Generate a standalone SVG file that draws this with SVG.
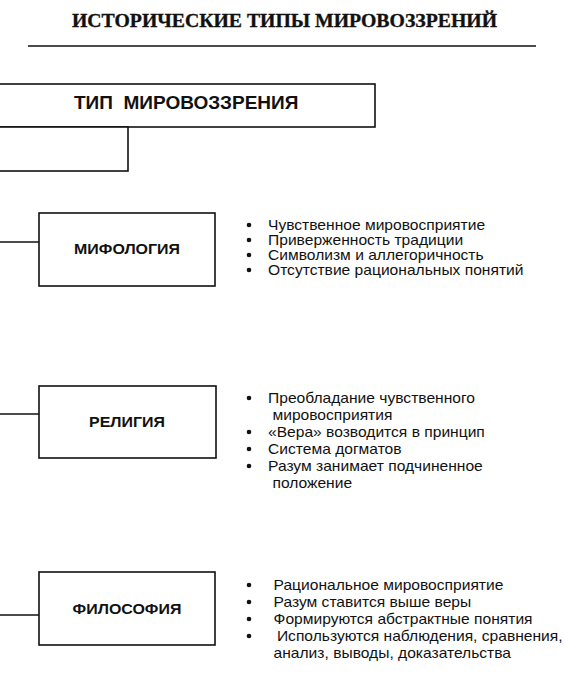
<svg xmlns="http://www.w3.org/2000/svg" width="565" height="682" viewBox="0 0 565 682">
<style>
.box{fill:#fff;stroke:#111;stroke-width:1.6}
.conn{stroke:#111;stroke-width:1.4;fill:none}
.title{font-family:"Liberation Serif","Times New Roman",serif;font-weight:bold;font-size:19px;fill:#111;stroke:#111;stroke-width:0.35}
.head{font-family:"Liberation Sans",Arial,sans-serif;font-weight:bold;font-size:19px;fill:#111}
.lbl{font-family:"Liberation Sans",Arial,sans-serif;font-weight:bold;font-size:14px;fill:#111;text-anchor:middle}
.item{font-family:"Liberation Sans",Arial,sans-serif;font-size:14px;fill:#111}
.dot{fill:#111}
</style>
<rect width="565" height="682" fill="#fff"/>
<text class="title" x="72" y="27" textLength="425" lengthAdjust="spacingAndGlyphs">ИСТОРИЧЕСКИЕ ТИПЫ МИРОВОЗЗРЕНИЙ</text>
<line x1="28" y1="46" x2="536" y2="46" stroke="#111" stroke-width="1.6"/>
<g id="connectors">
<line class="conn" x1="0" y1="242" x2="39" y2="242"/>
<line class="conn" x1="0" y1="414" x2="39" y2="414"/>
<line class="conn" x1="0" y1="615" x2="39" y2="615"/>
</g>
<g id="type">
<rect class="box" x="-3" y="84" width="378" height="43"/>
<text class="head" x="74" y="109" xml:space="preserve">ТИП  МИРОВОЗЗРЕНИЯ</text>
</g>
<g id="sub">
<rect class="box" x="-3" y="127" width="131" height="44"/>
</g>
<g id="myth">
<rect class="box" x="39" y="213" width="176" height="73"/>
<text class="lbl" x="127" y="254" transform="matrix(1.14 0 0 1 -17.78 0)">МИФОЛОГИЯ</text>
</g>
<g id="myth-list">
<circle class="dot" cx="249" cy="225" r="2.3"/>
<circle class="dot" cx="249" cy="240" r="2.3"/>
<circle class="dot" cx="249" cy="255" r="2.3"/>
<circle class="dot" cx="249" cy="270" r="2.3"/>
<g transform="matrix(1.115 0 0 1 -30.82 0)">
<text class="item" x="268" y="230">Чувственное мировосприятие</text>
<text class="item" x="268" y="245">Приверженность традиции</text>
<text class="item" x="268" y="260">Символизм и аллегоричность</text>
<text class="item" x="268" y="275">Отсутствие рациональных понятий</text>
</g>
</g>
<g id="rel">
<rect class="box" x="39" y="386" width="177" height="72"/>
<text class="lbl" x="127" y="427" transform="matrix(1.14 0 0 1 -17.78 0)">РЕЛИГИЯ</text>
</g>
<g id="rel-list">
<circle class="dot" cx="249" cy="398" r="2.3"/>
<circle class="dot" cx="249" cy="432" r="2.3"/>
<circle class="dot" cx="249" cy="449" r="2.3"/>
<circle class="dot" cx="249" cy="466" r="2.3"/>
<g transform="matrix(1.115 0 0 1 -30.82 0)">
<text class="item" x="268" y="403">Преобладание чувственного</text>
<text class="item" x="272" y="420">мировосприятия</text>
<text class="item" x="268" y="437">«Вера» возводится в принцип</text>
<text class="item" x="268" y="454">Система догматов</text>
<text class="item" x="268" y="471">Разум занимает подчиненное</text>
<text class="item" x="272" y="488">положение</text>
</g>
</g>
<g id="phil">
<rect class="box" x="39" y="572" width="176" height="73"/>
<text class="lbl" x="127" y="614" transform="matrix(1.14 0 0 1 -17.78 0)">ФИЛОСОФИЯ</text>
</g>
<g id="phil-list">
<circle class="dot" cx="249" cy="585" r="2.3"/>
<circle class="dot" cx="249" cy="602" r="2.3"/>
<circle class="dot" cx="249" cy="619" r="2.3"/>
<circle class="dot" cx="249" cy="636" r="2.3"/>
<g transform="matrix(1.115 0 0 1 -30.82 0)">
<text class="item" x="273" y="590">Рациональное мировосприятие</text>
<text class="item" x="273" y="607">Разум ставится выше веры</text>
<text class="item" x="273" y="624">Формируются абстрактные понятия</text>
<text class="item" x="276" y="641">Используются наблюдения, сравнения,</text>
<text class="item" x="273" y="658">анализ, выводы, доказательства</text>
</g>
</g>
</svg>
